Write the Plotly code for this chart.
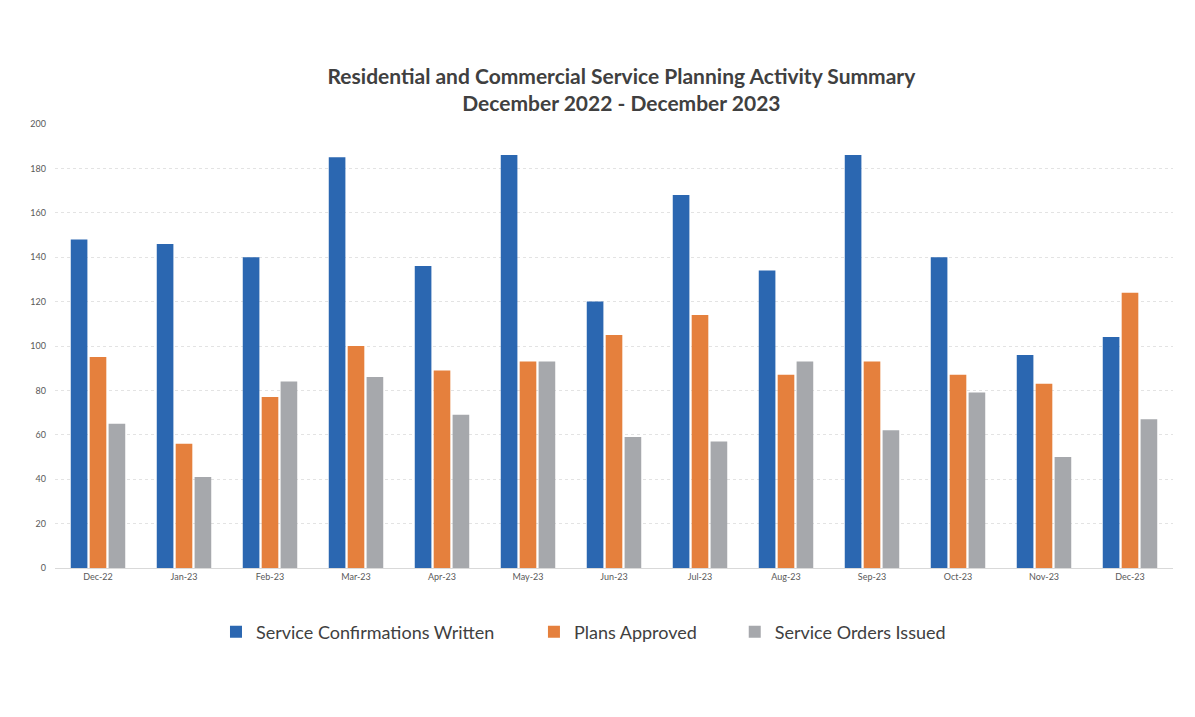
import plotly.graph_objects as go

months = ["Dec-22", "Jan-23", "Feb-23", "Mar-23", "Apr-23", "May-23", "Jun-23",
          "Jul-23", "Aug-23", "Sep-23", "Oct-23", "Nov-23", "Dec-23"]
confirmations = [148, 146, 140, 185, 136, 186, 120, 168, 134, 186, 140, 96, 104]
plans_approved = [95, 56, 77, 100, 89, 93, 105, 114, 87, 93, 87, 83, 124]
orders_issued = [65, 41, 84, 86, 69, 93, 59, 57, 93, 62, 79, 50, 67]

series = [
    ("Service Confirmations Written", confirmations, "#2B67B1", "legend"),
    ("Plans Approved", plans_approved, "#E5803D", "legend2"),
    ("Service Orders Issued", orders_issued, "#A6A8AC", "legend3"),
]

fig = go.Figure()
for name, vals, color, lg in series:
    fig.add_trace(go.Bar(x=months, y=vals, name=name, marker_color=color,
                         marker_line_width=0, legend=lg, showlegend=True))

leg_common = dict(orientation="h", xanchor="left", y=-0.144, yanchor="middle",
                  font=dict(size=18, color="#404040"), itemwidth=30,
                  bgcolor="rgba(0,0,0,0)", visible=True)

fig.update_layout(
    width=1195, height=717,
    showlegend=True,
    paper_bgcolor="white", plot_bgcolor="white",
    margin=dict(l=55, r=22, t=124, b=149),
    barmode="group", bargap=0.34, bargroupgap=0.12,
    title=dict(
        text="<b>Residential and Commercial Service Planning Activity Summary<br>December 2022 - December 2023</b>",
        x=0.52, xanchor="center", y=1 - 84 / 717, yanchor="middle",
        font=dict(family="Lato, Noto Sans, sans-serif", size=21, color="#404040"),
    ),
    font=dict(family="Lato, Noto Sans, sans-serif", color="#595959"),
    legend=dict(x=0.144, **leg_common),
    legend2=dict(x=0.4284, **leg_common),
    legend3=dict(x=0.608, **leg_common),
    xaxis=dict(tickfont=dict(size=9, color="#595959"), showgrid=False,
               showline=True, linecolor="#D9D9D9", ticks=""),
    yaxis=dict(range=[0, 200], dtick=20, tickfont=dict(size=9, color="#595959"),
               showgrid=True, gridcolor="#E3E3E3", griddash="dot",
               zeroline=False, ticks="", ticklabelstandoff=8),
)

fig.write_html("out.html")
